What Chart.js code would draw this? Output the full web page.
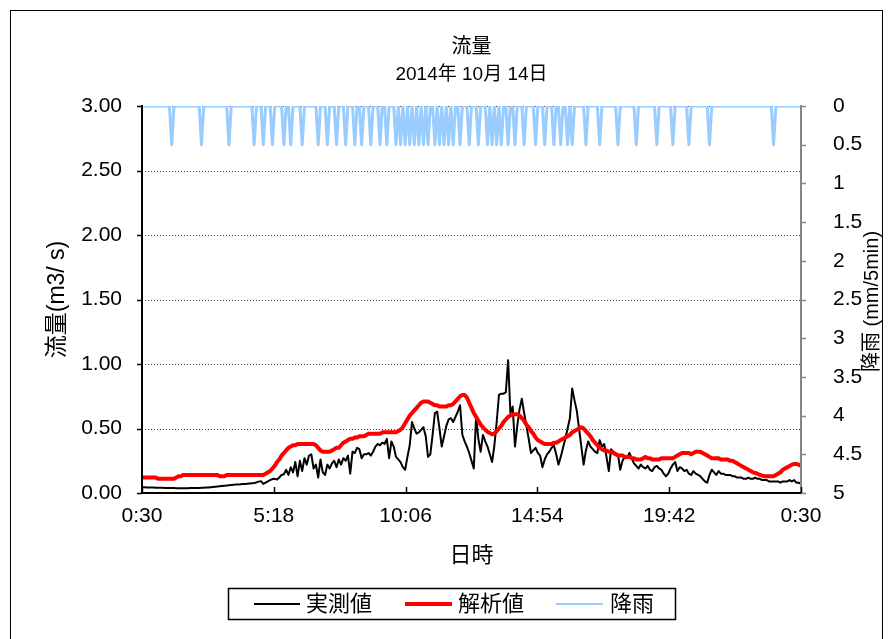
<!DOCTYPE html>
<html>
<head>
<meta charset="utf-8">
<script src="https://cdn.jsdelivr.net/npm/chart.js@4/dist/chart.umd.min.js"></script>
<style>
  html, body { margin: 0; padding: 0; background: #fff; }
  #wrap { width: 888px; height: 639px; }
</style>
</head>
<body>
<div id="wrap"><canvas id="flow" width="888" height="639"></canvas></div>
<script>
// 2014-10-14, 5-minute steps starting at 0:30 (289 samples, 0:30 to 0:30 next day)
const stepMinutes = 5;

// x-axis tick positions (minutes after 0:30) and their labels
const tickMinutes = [0, 288, 576, 864, 1152, 1440];
const tickLabels = ['0:30', '5:18', '10:06', '14:54', '19:42', '0:30'];

// observed discharge (m3/s)
const measured = [
  0.045,0.044,0.043,0.043,0.042,0.042,0.041,0.041,0.040,0.040,0.039,0.039,
  0.038,0.038,0.038,0.037,0.037,0.037,0.037,0.037,0.037,0.038,0.038,0.038,
  0.039,0.039,0.040,0.041,0.042,0.043,0.045,0.047,0.049,0.051,0.053,0.055,
  0.057,0.058,0.060,0.062,0.063,0.065,0.066,0.067,0.069,0.070,0.072,0.074,
  0.076,0.078,0.082,0.088,0.092,0.070,0.080,0.090,0.100,0.108,0.110,0.105,
  0.120,0.140,0.145,0.180,0.140,0.200,0.160,0.240,0.130,0.250,0.170,0.270,
  0.220,0.290,0.300,0.190,0.220,0.120,0.260,0.160,0.140,0.220,0.190,0.230,
  0.250,0.200,0.260,0.220,0.270,0.250,0.290,0.150,0.320,0.310,0.350,0.340,
  0.270,0.300,0.300,0.310,0.290,0.320,0.360,0.380,0.370,0.390,0.380,0.420,
  0.270,0.400,0.360,0.280,0.260,0.240,0.200,0.180,0.280,0.370,0.550,0.500,
  0.460,0.470,0.490,0.510,0.440,0.280,0.300,0.450,0.620,0.630,0.500,0.360,
  0.440,0.520,0.570,0.580,0.550,0.590,0.630,0.680,0.450,0.400,0.360,0.310,
  0.250,0.190,0.590,0.420,0.320,0.450,0.400,0.360,0.300,0.240,0.370,0.550,
  0.760,0.770,0.770,0.780,1.030,0.620,0.670,0.360,0.520,0.650,0.730,0.620,
  0.520,0.420,0.310,0.330,0.350,0.310,0.290,0.200,0.260,0.300,0.320,0.350,
  0.370,0.300,0.220,0.280,0.350,0.420,0.500,0.580,0.810,0.720,0.640,0.500,
  0.360,0.220,0.330,0.400,0.360,0.340,0.320,0.310,0.410,0.360,0.380,0.280,
  0.170,0.340,0.320,0.310,0.300,0.180,0.250,0.280,0.270,0.310,0.270,0.230,
  0.210,0.190,0.220,0.200,0.190,0.210,0.180,0.170,0.200,0.210,0.190,0.180,
  0.150,0.130,0.150,0.190,0.220,0.240,0.170,0.200,0.190,0.170,0.180,0.150,
  0.140,0.170,0.150,0.140,0.130,0.110,0.090,0.080,0.140,0.180,0.160,0.140,
  0.170,0.150,0.150,0.140,0.140,0.140,0.130,0.130,0.120,0.120,0.120,0.110,
  0.110,0.120,0.110,0.110,0.120,0.110,0.110,0.100,0.100,0.100,0.090,0.090,
  0.090,0.090,0.090,0.080,0.090,0.090,0.090,0.100,0.090,0.100,0.080,0.080,
  0.070
];

// simulated discharge (m3/s)
const simulated = [
  0.12,0.12,0.12,0.12,0.12,0.12,0.12,0.11,0.11,0.11,
  0.11,0.11,0.11,0.11,0.11,0.12,0.13,0.13,0.14,0.14,
  0.14,0.14,0.14,0.14,0.14,0.14,0.14,0.14,0.14,0.14,
  0.14,0.14,0.14,0.14,0.13,0.13,0.13,0.14,0.14,0.14,
  0.14,0.14,0.14,0.14,0.14,0.14,0.14,0.14,0.14,0.14,
  0.14,0.14,0.14,0.14,0.15,0.16,0.17,0.19,0.21,0.24,
  0.26,0.29,0.31,0.33,0.35,0.36,0.37,0.37,0.38,0.38,
  0.38,0.38,0.38,0.38,0.38,0.38,0.37,0.35,0.33,0.32,
  0.32,0.32,0.32,0.33,0.34,0.35,0.35,0.37,0.39,0.40,
  0.41,0.42,0.42,0.43,0.43,0.44,0.44,0.44,0.45,0.46,
  0.46,0.46,0.46,0.46,0.46,0.47,0.47,0.47,0.47,0.47,
  0.47,0.47,0.48,0.49,0.51,0.54,0.57,0.60,0.62,0.64,
  0.66,0.68,0.70,0.71,0.71,0.71,0.70,0.69,0.68,0.68,
  0.67,0.67,0.67,0.67,0.68,0.68,0.69,0.71,0.73,0.75,
  0.76,0.76,0.74,0.70,0.66,0.62,0.59,0.56,0.53,0.51,
  0.49,0.475,0.465,0.455,0.46,0.48,0.50,0.52,0.55,0.57,
  0.59,0.60,0.61,0.61,0.61,0.60,0.58,0.56,0.53,0.51,
  0.48,0.46,0.43,0.41,0.40,0.39,0.38,0.38,0.38,0.38,
  0.39,0.39,0.40,0.41,0.42,0.43,0.44,0.45,0.47,0.48,
  0.49,0.50,0.51,0.50,0.48,0.46,0.44,0.41,0.39,0.37,
  0.35,0.34,0.33,0.33,0.32,0.32,0.31,0.30,0.29,0.29,
  0.29,0.28,0.28,0.28,0.27,0.27,0.26,0.26,0.26,0.27,
  0.28,0.27,0.27,0.26,0.26,0.26,0.26,0.27,0.27,0.27,
  0.27,0.27,0.27,0.28,0.29,0.30,0.31,0.31,0.31,0.31,
  0.30,0.31,0.32,0.32,0.32,0.31,0.30,0.29,0.28,0.27,
  0.27,0.27,0.27,0.26,0.26,0.26,0.26,0.25,0.25,0.24,
  0.23,0.22,0.21,0.20,0.19,0.18,0.17,0.16,0.155,0.15,
  0.14,0.135,0.13,0.13,0.13,0.13,0.13,0.14,0.15,0.16,
  0.18,0.19,0.20,0.21,0.22,0.225,0.225,0.22,0.21
];

// rainfall (mm per 5 min), one row per hour
const rainfall = [
  0,0,0,0,0,0,0,0,0,0,0,0,
  0,0.5,0,0,0,0,0,0,0,0,0,0,
  0,0,0.5,0,0,0,0,0,0,0,0,0,
  0,0,0.5,0,0,0,0,0,0,0,0,0,
  0,0.5,0,0,0,0.5,0,0,0,0.5,0,0,
  0,0,0.5,0,0,0.5,0,0,0,0,0.5,0,
  0,0,0,0,0,0.5,0,0,0,0.5,0,0,
  0,0.5,0,0,0,0.5,0,0,0,0.5,0,0,
  0.5,0,0,0,0.5,0,0,0,0.5,0,0,0.5,
  0,0,0,0.5,0,0.5,0,0.5,0,0.5,0,0.5,
  0,0.5,0,0.5,0,0.5,0,0,0.5,0,0.5,0,
  0.5,0,0.5,0,0.5,0,0,0.5,0,0,0,0.5,
  0,0,0,0.5,0,0,0,0.5,0,0.5,0,0.5,
  0,0.5,0,0,0.5,0,0,0.5,0,0,0,0.5,
  0,0,0,0,0.5,0,0,0,0.5,0,0,0,
  0.5,0,0,0.5,0,0,0.5,0,0.5,0,0,0,
  0,0,0.5,0,0,0,0,0,0.5,0,0,0,
  0,0,0,0,0.5,0,0,0,0,0,0,0,
  0.5,0,0,0,0,0,0,0,0,0.5,0,0,
  0,0,0,0,0.5,0,0,0,0,0,0,0.5,
  0,0,0,0,0,0,0,0,0.5,0,0,0,
  0,0,0,0,0,0,0,0,0,0,0,0,
  0,0,0,0,0,0,0,0,0,0,0,0,
  0.5,0,0,0,0,0,0,0,0,0,0,0,
  0
];

const titleLines = ['流量', '2014年 10月 14日'];
const xTitle = '日時';
const yTitle = '流量(m3/ s)';
const y2Title = '降雨 (mm/5min)';

const FONT = '"Liberation Sans", "Noto Sans CJK JP", Arial, sans-serif';
const minutes = measured.map((_, i) => i * stepMinutes);

// draws frame, gridlines, axis lines, titles and the boxed legend
const decorations = {
  id: 'decorations',
  beforeDatasetsDraw(chart) {
    const { ctx, chartArea: a, scales } = chart;
    ctx.save();
    ctx.strokeStyle = '#444';
    ctx.lineWidth = 1;
    ctx.setLineDash([1, 2]);
    scales.y.ticks.forEach(t => {
      if (t.value === 0) return;
      const y = Math.round(scales.y.getPixelForValue(t.value)) + 0.5;
      ctx.beginPath();
      ctx.moveTo(a.left, y);
      ctx.lineTo(a.right, y);
      ctx.stroke();
    });
    ctx.restore();
  },
  afterDatasetsDraw(chart) {
    const { ctx, chartArea: a, scales } = chart;
    ctx.save();
    // right (rain) axis
    ctx.strokeStyle = '#868686';
    ctx.lineWidth = 2;
    ctx.beginPath();
    ctx.moveTo(a.right, a.top - 1);
    ctx.lineTo(a.right, a.bottom + 1);
    ctx.stroke();
    scales.y2.ticks.forEach(t => {
      const y = Math.round(scales.y2.getPixelForValue(t.value)) + 0.5;
      ctx.lineWidth = 1.5;
      ctx.beginPath();
      ctx.moveTo(a.right, y);
      ctx.lineTo(a.right + 5, y);
      ctx.stroke();
    });
    // left axis
    ctx.strokeStyle = '#000';
    ctx.lineWidth = 2;
    ctx.beginPath();
    ctx.moveTo(a.left, a.top - 1);
    ctx.lineTo(a.left, a.bottom + 1);
    ctx.stroke();
    scales.y.ticks.forEach(t => {
      const y = Math.round(scales.y.getPixelForValue(t.value)) + 0.5;
      ctx.lineWidth = 1.5;
      ctx.beginPath();
      ctx.moveTo(a.left - 5, y);
      ctx.lineTo(a.left, y);
      ctx.stroke();
    });
    // bottom axis with inward ticks
    ctx.lineWidth = 2;
    ctx.beginPath();
    ctx.moveTo(a.left - 1, a.bottom);
    ctx.lineTo(a.right, a.bottom);
    ctx.stroke();
    tickMinutes.forEach(m => {
      const x = Math.round(scales.x.getPixelForValue(m)) + 0.5;
      ctx.lineWidth = 1.5;
      ctx.beginPath();
      ctx.moveTo(x, a.bottom);
      ctx.lineTo(x, a.bottom - 6);
      ctx.stroke();
    });
    ctx.restore();
  },
  afterDraw(chart) {
    const { ctx, chartArea: a } = chart;
    const cx = (a.left + a.right) / 2;
    const cy = (a.top + a.bottom) / 2;
    ctx.save();
    // outer frame
    ctx.strokeStyle = '#000';
    ctx.lineWidth = 1;
    ctx.strokeRect(10.5, 10.5, 872, 640);

    ctx.fillStyle = '#000';
    ctx.textAlign = 'center';
    ctx.textBaseline = 'middle';
    ctx.font = '20px ' + FONT;
    ctx.fillText(titleLines[0], cx, 47);
    ctx.font = '19px ' + FONT;
    ctx.fillText(titleLines[1], cx, 75);
    ctx.font = '22px ' + FONT;
    ctx.fillText(xTitle, cx, 556);

    ctx.save();
    ctx.translate(58, cy);
    ctx.rotate(-Math.PI / 2);
    ctx.font = '23px ' + FONT;
    ctx.fillText(yTitle, 0, 0);
    ctx.restore();

    ctx.save();
    ctx.translate(872, cy + 2);
    ctx.rotate(-Math.PI / 2);
    ctx.font = '20px ' + FONT;
    ctx.fillText(y2Title, 0, 0);
    ctx.restore();

    // legend
    ctx.lineWidth = 1.5;
    ctx.strokeRect(228.5, 588.5, 447, 31);
    const slots = [
      { x0: 254, x1: 300, tx: 306 },
      { x0: 405, x1: 452, tx: 458 },
      { x0: 556, x1: 603, tx: 610 }
    ];
    const ly = 604;
    ctx.font = '22px ' + FONT;
    ctx.textAlign = 'left';
    chart.data.datasets.forEach((ds, i) => {
      const s = slots[i];
      ctx.strokeStyle = ds.borderColor;
      ctx.lineWidth = ds.legendWidth;
      ctx.beginPath();
      ctx.moveTo(s.x0, ly);
      ctx.lineTo(s.x1, ly);
      ctx.stroke();
      ctx.fillStyle = '#000';
      ctx.fillText(ds.label, s.tx, ly + 1);
    });
    ctx.restore();
  }
};

const tickFont = { family: FONT, size: 21 };

new Chart(document.getElementById('flow'), {
  type: 'line',
  data: {
    labels: minutes,
    datasets: [
      {
        label: '実測値',
        data: measured,
        yAxisID: 'y',
        borderColor: '#000000',
        borderWidth: 2,
        legendWidth: 2,
        order: 1
      },
      {
        label: '解析値',
        data: simulated,
        yAxisID: 'y',
        borderColor: '#ff0000',
        borderWidth: 4,
        legendWidth: 4,
        order: 0
      },
      {
        label: '降雨',
        data: rainfall,
        yAxisID: 'y2',
        borderColor: '#99ccff',
        borderWidth: 3,
        legendWidth: 2,
        order: 2
      }
    ]
  },
  options: {
    responsive: false,
    animation: false,
    devicePixelRatio: 1,
    layout: { padding: { left: 0, right: 0, top: 106, bottom: 0 } },
    elements: {
      point: { radius: 0, hoverRadius: 0 },
      line: { tension: 0, borderJoinStyle: 'round', borderCapStyle: 'round', fill: false }
    },
    plugins: {
      legend: { display: false },
      title: { display: false },
      tooltip: { enabled: false }
    },
    events: [],
    scales: {
      x: {
        type: 'linear',
        min: 0,
        max: 1440,
        grid: { display: false, drawTicks: false },
        border: { display: false },
        afterBuildTicks(scale) {
          scale.ticks = tickMinutes.map(v => ({ value: v }));
        },
        afterFit(scale) { scale.height = 146; },
        ticks: {
          autoSkip: false,
          maxRotation: 0,
          padding: 11,
          color: '#000',
          font: tickFont,
          callback: v => tickLabels[tickMinutes.indexOf(v)]
        }
      },
      y: {
        position: 'left',
        min: 0,
        max: 3,
        grid: { display: false, drawTicks: false },
        border: { display: false },
        afterFit(scale) { scale.width = 142; },
        ticks: {
          stepSize: 0.5,
          padding: 20,
          color: '#000',
          font: tickFont,
          callback: v => v.toFixed(2)
        }
      },
      y2: {
        position: 'right',
        min: 0,
        max: 5,
        reverse: true,
        grid: { display: false, drawTicks: false },
        border: { display: false },
        afterFit(scale) { scale.width = 87; },
        ticks: {
          stepSize: 0.5,
          padding: 32,
          color: '#000',
          font: tickFont,
          callback: v => String(v)
        }
      }
    }
  },
  plugins: [decorations]
});
</script>
</body>
</html>
